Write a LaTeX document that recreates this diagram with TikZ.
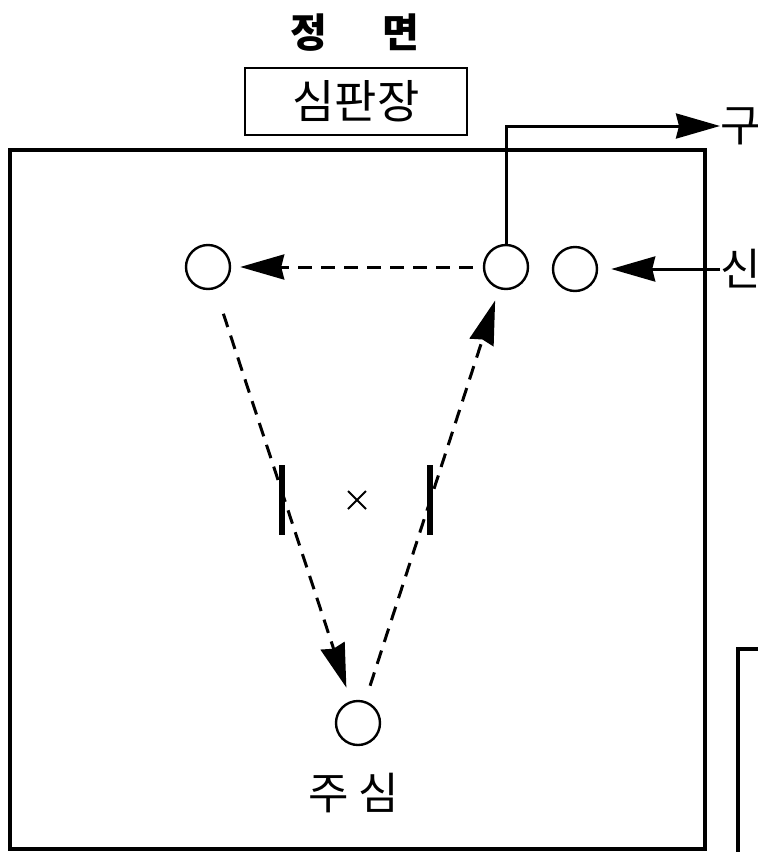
\documentclass[tikz,border=0pt]{standalone}
\usepackage{fontspec}
\usepackage{tikz}
\usetikzlibrary{arrows.meta,positioning}
\setmainfont{Noto Sans CJK KR}

\begin{document}
\begin{tikzpicture}[x=1pt,y=-1pt,
		player/.style={circle,draw,line width=2.4pt,minimum size=44pt,inner sep=0pt},
		move/.style={draw,line width=3pt,-{Stealth[length=44pt,width=25pt,inset=3pt]}},
		run/.style={move,dash pattern=on 14pt off 9pt},
		word/.style={font=\fontsize{44}{48}\selectfont,inner sep=0pt}]
		\useasboundingbox (0,0) rectangle (758,852);
		\path [draw,line width=4.5pt] (10,150) rectangle (705,849);
		\path [draw,line width=3.5pt] (738,870) |- (780,649);
		\node (front) at (355,33) [word,font=\fontsize{40}{44}\selectfont\bfseries] {정\hspace{1.4em}면};
		\node (table) at (356,101.5) [draw,line width=2pt,minimum width=222pt,minimum height=67pt,font=\fontsize{46}{50}\selectfont,inner sep=0pt] {심판장};
		\node (left) at (208,267) [player] {};
		\node (trail) at (506,267) [player] {};
		\node (new) at (575,269) [player] {};
		\node (lead) at (358,723) [player] {};
		\node (lead label) at (354,793) [word] {주 심};
		\node (out) at (720,126) [word,anchor=west] {구};
		\node (in) at (720,269) [word,anchor=west] {신};
		\path [draw,line width=6pt] (282,465) -- (282,535);
		\path [draw,line width=6pt] (430,465) -- (430,535);
		\path [draw,line width=1.8pt] (348,491) -- (366,509) (348,509) -- (366,491);
		\path [move] (trail.north) |- (out.west);
		\path [move,shorten >=13pt] (in.west) -- (new);
		\path [run,shorten <=10pt,shorten >=9pt] (trail) -- (left);
		\path [run,shorten <=26pt,shorten >=14pt] (left) -- (lead);
		\path [run,shorten <=16pt,shorten >=12pt] (lead) -- (trail);
	\end{tikzpicture}
\end{document}
